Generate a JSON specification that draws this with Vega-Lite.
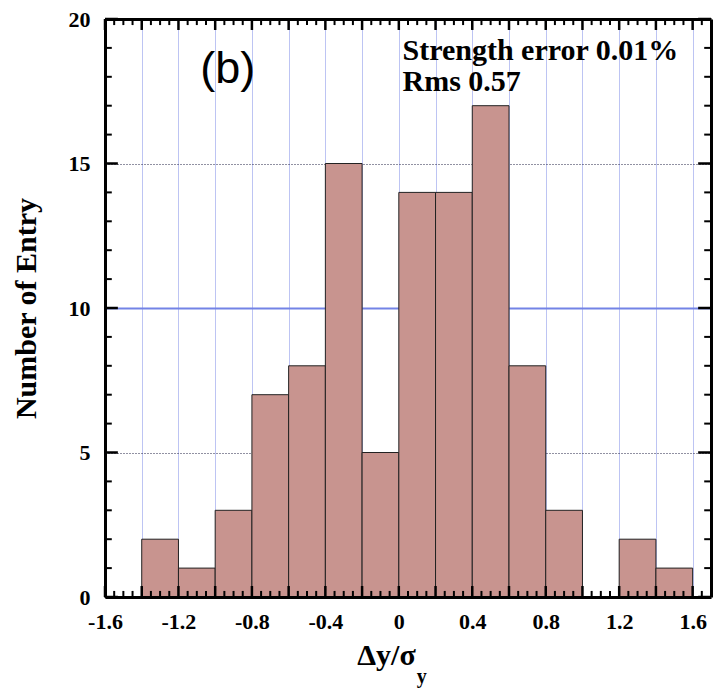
{
  "$schema": "https://vega.github.io/schema/vega-lite/v6.json",
  "width": 606,
  "height": 578,
  "autosize": {"type": "none"},
  "padding": {"left": 105, "top": 19, "right": 4, "bottom": 93},
  "background": "white",
  "config": {
    "view": {"stroke": null},
    "axis": {
      "labelFont": "Liberation Serif",
      "titleFont": "Liberation Serif",
      "labelFontWeight": "bold",
      "titleFontWeight": "bold",
      "labelColor": "black",
      "titleColor": "black",
      "domainColor": "black"
    }
  },
  "datasets": {
    "xmajor": [{"v": -1.6}, {"v": -1.4}, {"v": -1.2}, {"v": -1.0}, {"v": -0.8}, {"v": -0.6}, {"v": -0.4}, {"v": -0.2}, {"v": 0}, {"v": 0.2}, {"v": 0.4}, {"v": 0.6}, {"v": 0.8}, {"v": 1.0}, {"v": 1.2}, {"v": 1.4}, {"v": 1.6}],
    "xminor": [{"v": -1.55}, {"v": -1.5}, {"v": -1.45}, {"v": -1.35}, {"v": -1.3}, {"v": -1.25}, {"v": -1.15}, {"v": -1.1}, {"v": -1.05}, {"v": -0.95}, {"v": -0.9}, {"v": -0.85}, {"v": -0.75}, {"v": -0.7}, {"v": -0.65}, {"v": -0.55}, {"v": -0.5}, {"v": -0.45}, {"v": -0.35}, {"v": -0.3}, {"v": -0.25}, {"v": -0.15}, {"v": -0.1}, {"v": -0.05}, {"v": 0.05}, {"v": 0.1}, {"v": 0.15}, {"v": 0.25}, {"v": 0.3}, {"v": 0.35}, {"v": 0.45}, {"v": 0.5}, {"v": 0.55}, {"v": 0.65}, {"v": 0.7}, {"v": 0.75}, {"v": 0.85}, {"v": 0.9}, {"v": 0.95}, {"v": 1.05}, {"v": 1.1}, {"v": 1.15}, {"v": 1.25}, {"v": 1.3}, {"v": 1.35}, {"v": 1.45}, {"v": 1.5}, {"v": 1.55}, {"v": 1.65}],
    "ymajor": [{"v": 0}, {"v": 5}, {"v": 10}, {"v": 15}, {"v": 20}],
    "yminor": [{"v": 1}, {"v": 2}, {"v": 3}, {"v": 4}, {"v": 6}, {"v": 7}, {"v": 8}, {"v": 9}, {"v": 11}, {"v": 12}, {"v": 13}, {"v": 14}, {"v": 16}, {"v": 17}, {"v": 18}, {"v": 19}]
  },
  "data": {
    "values": [
      {"start": -1.4, "end": -1.2, "count": 2},
      {"start": -1.2, "end": -1.0, "count": 1},
      {"start": -1.0, "end": -0.8, "count": 3},
      {"start": -0.8, "end": -0.6, "count": 7},
      {"start": -0.6, "end": -0.4, "count": 8},
      {"start": -0.4, "end": -0.2, "count": 15},
      {"start": -0.2, "end": 0.0, "count": 5},
      {"start": 0.0, "end": 0.2, "count": 14},
      {"start": 0.2, "end": 0.4, "count": 14},
      {"start": 0.4, "end": 0.6, "count": 17},
      {"start": 0.6, "end": 0.8, "count": 8},
      {"start": 0.8, "end": 1.0, "count": 3},
      {"start": 1.2, "end": 1.4, "count": 2},
      {"start": 1.4, "end": 1.6, "count": 1}
    ]
  },
  "resolve": {"axis": {"x": "independent", "y": "independent"}},
  "layer": [
    {
      "mark": {"type": "bar", "fill": "#c8948f", "stroke": "#222222", "strokeWidth": 1},
      "encoding": {
        "x": {"field": "start", "type": "quantitative", "scale": {"domain": [-1.6, 1.7], "nice": false, "zero": false},
          "axis": {"orient": "bottom", "values": [-1.4,-1.2,-1.0,-0.8,-0.6,-0.4,-0.2,0,0.2,0.4,0.6,0.8,1.0,1.2,1.4,1.6], "labels": false, "ticks": false, "domain": false, "grid": true, "gridColor": "#7b88e6", "gridDash": [1, 1], "gridWidth": 1, "title": null, "zindex": 0}},
        "x2": {"field": "end"},
        "y": {"field": "count", "type": "quantitative", "scale": {"domain": [0, 20], "nice": false, "zero": true},
          "axis": {"orient": "left", "values": [5, 10, 15], "labels": false, "ticks": false, "domain": false, "grid": true,
            "gridColor": {"condition": {"test": "datum.value === 10", "value": "#7383e6"}, "value": "#222244"},
            "gridDash": {"condition": {"test": "datum.value === 10", "value": []}, "value": [1, 2]},
            "gridWidth": {"condition": {"test": "datum.value === 10", "value": 2}, "value": 1},
            "title": null, "zindex": 0}},
        "y2": {"datum": 0}
      }
    },
    {
      "mark": {"type": "point", "opacity": 0},
      "encoding": {
        "x": {"field": "start", "type": "quantitative", "scale": {"domain": [-1.6, 1.7], "nice": false, "zero": false},
          "axis": {"orient": "bottom", "values": [-1.6,-1.2,-0.8,-0.4,0,0.4,0.8,1.2,1.6], "format": ".1~f",
            "labelExpr": "replace(datum.label, '\u2212', '-')", "labelFontSize": 22, "labelPadding": 14, "labelFlush": false, "labelOverlap": false,
            "ticks": false, "domain": true, "domainWidth": 3, "grid": false,
            "title": "Δy/σ", "titleFontSize": 30, "titleX": 281, "titleY": 67, "titleBaseline": "alphabetic", "titleAlign": "center", "zindex": 2}},
        "y": {"field": "count", "type": "quantitative", "scale": {"domain": [0, 20], "nice": false, "zero": true},
          "axis": {"orient": "left", "values": [0, 5, 10, 15, 20], "labelFontSize": 22, "labelPadding": 15, "labelFlush": false, "labelOverlap": false,
            "ticks": false, "domain": true, "domainWidth": 3, "grid": false,
            "title": "Number of Entry", "titleFontSize": 30, "titleX": -70, "titleY": 289, "titleAngle": -90, "titleBaseline": "alphabetic", "titleAlign": "center", "zindex": 2}}
      }
    },
    {
      "mark": {"type": "point", "opacity": 0},
      "encoding": {
        "x": {"field": "start", "type": "quantitative", "scale": {"domain": [-1.6, 1.7], "nice": false, "zero": false},
          "axis": {"orient": "top", "labels": false, "domain": true, "domainWidth": 3, "grid": false, "ticks": false, "title": null, "zindex": 2}},
        "y": {"field": "count", "type": "quantitative", "scale": {"domain": [0, 20], "nice": false, "zero": true},
          "axis": {"orient": "right", "labels": false, "domain": true, "domainWidth": 3, "grid": false, "ticks": false, "title": null, "zindex": 2}}
      }
    },
    {
      "data": {"name": "xmajor"},
      "mark": {"type": "rule", "stroke": "black", "strokeWidth": 2.5},
      "encoding": {
        "x": {"field": "v", "type": "quantitative", "axis": null},
        "x2": {"field": "v"},
        "y": {"datum": 0, "type": "quantitative", "axis": null},
        "y2": {"datum": 0.38}
      }
    },
    {
      "data": {"name": "xmajor"},
      "mark": {"type": "rule", "stroke": "black", "strokeWidth": 2.5},
      "encoding": {
        "x": {"field": "v", "type": "quantitative", "axis": null},
        "x2": {"field": "v"},
        "y": {"datum": 20, "type": "quantitative", "axis": null},
        "y2": {"datum": 19.62}
      }
    },
    {
      "data": {"name": "xminor"},
      "mark": {"type": "rule", "stroke": "black", "strokeWidth": 2},
      "encoding": {
        "x": {"field": "v", "type": "quantitative", "axis": null},
        "x2": {"field": "v"},
        "y": {"datum": 0, "type": "quantitative", "axis": null},
        "y2": {"datum": 0.21}
      }
    },
    {
      "data": {"name": "xminor"},
      "mark": {"type": "rule", "stroke": "black", "strokeWidth": 2},
      "encoding": {
        "x": {"field": "v", "type": "quantitative", "axis": null},
        "x2": {"field": "v"},
        "y": {"datum": 20, "type": "quantitative", "axis": null},
        "y2": {"datum": 19.79}
      }
    },
    {
      "data": {"name": "ymajor"},
      "mark": {"type": "rule", "stroke": "black", "strokeWidth": 2.5},
      "encoding": {
        "y": {"field": "v", "type": "quantitative", "axis": null},
        "y2": {"field": "v"},
        "x": {"datum": -1.6, "type": "quantitative", "axis": null},
        "x2": {"datum": -1.53}
      }
    },
    {
      "data": {"name": "ymajor"},
      "mark": {"type": "rule", "stroke": "black", "strokeWidth": 2.5},
      "encoding": {
        "y": {"field": "v", "type": "quantitative", "axis": null},
        "y2": {"field": "v"},
        "x": {"datum": 1.7, "type": "quantitative", "axis": null},
        "x2": {"datum": 1.63}
      }
    },
    {
      "data": {"name": "yminor"},
      "mark": {"type": "rule", "stroke": "black", "strokeWidth": 2},
      "encoding": {
        "y": {"field": "v", "type": "quantitative", "axis": null},
        "y2": {"field": "v"},
        "x": {"datum": -1.6, "type": "quantitative", "axis": null},
        "x2": {"datum": -1.563}
      }
    },
    {
      "data": {"name": "yminor"},
      "mark": {"type": "rule", "stroke": "black", "strokeWidth": 2},
      "encoding": {
        "y": {"field": "v", "type": "quantitative", "axis": null},
        "y2": {"field": "v"},
        "x": {"datum": 1.7, "type": "quantitative", "axis": null},
        "x2": {"datum": 1.663}
      }
    },
    {
      "data": {"values": [{"label": "(b)", "px": -0.931, "py": 17.79}]},
      "mark": {"type": "text", "font": "Liberation Sans", "fontSize": 45, "align": "center", "baseline": "alphabetic", "color": "black"},
      "encoding": {
        "x": {"field": "px", "type": "quantitative", "axis": null},
        "y": {"field": "py", "type": "quantitative", "axis": null},
        "text": {"field": "label"}
      }
    },
    {
      "data": {"values": [{"label": "Strength error 0.01%", "px": 0.02, "py": 18.58}, {"label": "Rms 0.57", "px": 0.02, "py": 17.51}]},
      "mark": {"type": "text", "font": "Liberation Serif", "fontWeight": "bold", "fontSize": 30, "align": "left", "baseline": "alphabetic", "color": "black"},
      "encoding": {
        "x": {"field": "px", "type": "quantitative", "axis": null},
        "y": {"field": "py", "type": "quantitative", "axis": null},
        "text": {"field": "label"}
      }
    },
    {
      "data": {"values": [{"label": "y", "px": 0.125, "py": -2.98}]},
      "mark": {"type": "text", "font": "Liberation Serif", "fontWeight": "bold", "fontSize": 20, "align": "center", "baseline": "alphabetic", "color": "black"},
      "encoding": {
        "x": {"field": "px", "type": "quantitative", "axis": null},
        "y": {"field": "py", "type": "quantitative", "axis": null},
        "text": {"field": "label"}
      }
    }
  ]
}
